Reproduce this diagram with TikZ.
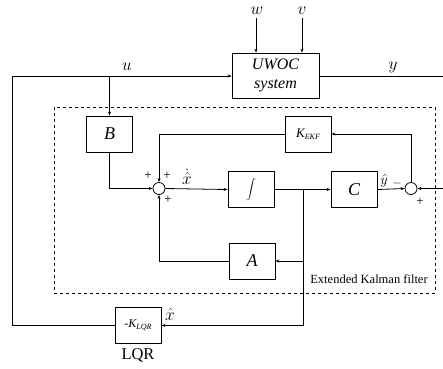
\documentclass[tikz,border=0pt]{standalone}
\usepackage{fontspec}
\setmainfont{Liberation Serif}
\usetikzlibrary{arrows.meta}
\newcommand{\subtxt}[1]{\raisebox{-0.35ex}{\fontsize{8}{8}\selectfont\itshape #1}}
\begin{document}
\begin{tikzpicture}[x=1pt,y=-1pt,
  blk/.style={draw,line width=0.8pt,minimum width=46pt,minimum height=36pt,inner sep=0pt,font=\fontsize{18}{20}\selectfont\itshape},
  sumc/.style={draw,circle,line width=0.8pt,minimum size=12pt,inner sep=0pt},
  conn/.style={line width=0.8pt},
  arr/.style={conn,-{Stealth[length=4pt,width=3pt]}},
  sgn/.style={font=\fontsize{13}{13}\selectfont,inner sep=0pt},
  lbl/.style={font=\fontsize{19}{19}\selectfont,inner sep=0pt}]
\useasboundingbox (0,0) rectangle (443,368);
% dashed EKF frame
\draw[dashed,line width=0.6pt] (54,107) rectangle (435,293);
\node[font=\fontsize{12.5}{12.5}\selectfont,inner sep=0pt] (ekflbl) at (369,279) {Extended Kalman filter};
% blocks
\node[blk,minimum width=87pt,minimum height=45pt,align=center,font=\fontsize{16}{19}\selectfont\itshape] (uwoc) at (275.5,75.5) {UWOC\\system};
\node[blk] (B) at (109.5,134) {B};
\node[blk,font=\fontsize{13}{13}\selectfont\itshape] (kekf) at (308,134) {K\subtxt{EKF}};
\node[blk,font=\fontsize{24}{24}\selectfont] (integ) at (251,189.5) {$\displaystyle\int$};
\node[blk] (C) at (354,189.5) {C};
\node[blk] (A) at (252,261) {A};
\node[blk,font=\fontsize{12}{12}\selectfont\itshape] (lqr) at (138,325.5) {-K\subtxt{LQR}};
\node[font=\fontsize{16.5}{16.5}\selectfont,inner sep=0pt] (lqrlbl) at (138,355) {LQR};
\node[sumc] (s1) at (159,188.5) {};
\node[sumc] (s2) at (411,188.5) {};
% coordinates
\coordinate (wtop) at (256,18);
\coordinate (vtop) at (302,18);
\coordinate (uL) at (12,76);
\coordinate (uB) at (109.5,76);
\coordinate (yR) at (443,76);
\coordinate (inR) at (443,188.5);
\coordinate (jn) at (303,189.5);
% labels
\node[lbl] (wl) at (257,11) {$w$};
\node[lbl] (vl) at (302,11) {$v$};
\node[lbl] (ul) at (127,67) {$u$};
\node[lbl] (yl) at (393,67) {$y$};
\node[lbl,font=\fontsize{17}{17}\selectfont] (xdl) at (187,177) {$\dot{\hat{x}}$};
\node[lbl,font=\fontsize{15}{15}\selectfont] (yhl) at (384,181) {$\hat{y}$};
\node[lbl,font=\fontsize{16}{16}\selectfont] (xhl) at (170,314) {$\hat{x}$};
\node[sgn] (p1) at (148,176) {+};
\node[sgn] (p2) at (167,176) {+};
\node[sgn] (p3) at (168,200) {+};
\node[sgn] (m1) at (397,183) {$-$};
\node[sgn] (p4) at (420,202) {+};
% connectors
\draw[arr] (wtop) -- (wtop |- uwoc.north);
\draw[arr] (vtop) -- (vtop |- uwoc.north);
\draw[arr] (uL) -- (uwoc.west |- uL);
\draw[arr] (uB) -- (B.north);
\draw[conn] (uwoc.east |- yR) -- (yR);
\draw[arr] (B.south) |- (s1.west);
\draw[arr] (kekf.west) -| (s1.north);
\draw[arr] (s1.east) -- (integ.west);
\draw[arr] (integ.east) -- (C.west);
\draw[arr] (C.east) -- (s2.west);
\draw[arr] (inR) -- (s2.east);
\draw[arr] (s2.north) |- (kekf.east);
\draw[arr] (jn) |- (A.east);
\draw[arr] (A.west) -| (s1.south);
\draw[arr] (jn) |- (lqr.east);
\draw[conn] (lqr.west) -| (uL);
\end{tikzpicture}
\end{document}
